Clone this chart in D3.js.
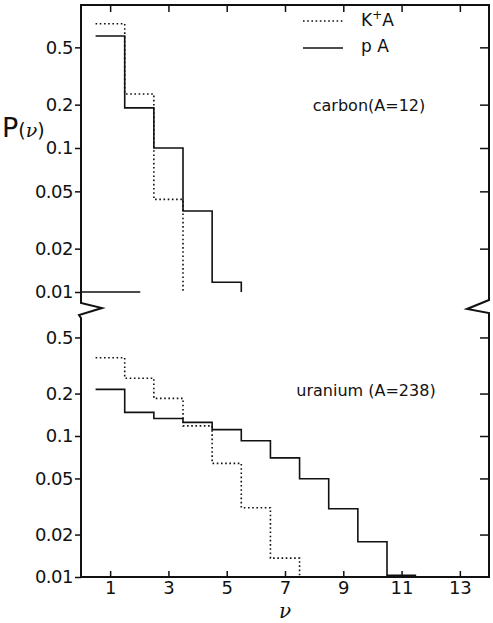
<!DOCTYPE html>
<html>
<head>
<meta charset="utf-8">
<script src="https://cdn.jsdelivr.net/npm/d3@7"></script>
<style>
  html, body { margin: 0; padding: 0; background: #fff; }
  svg { display: block; font-family: 'DejaVu Sans', sans-serif; }
</style>
</head>
<body>
<div class="chart"></div>
<script>
// ----------------------------------
// DATA
// ----------------------------------
const carbonNu = [1, 2, 3, 4, 5];
const carbonKA = [0.73, 0.237, 0.044];
const carbonPA = [0.60, 0.19, 0.10, 0.0365, 0.0117];
const carbonFloorNu = [0, 2]; // short solid segment sitting on the 0.01 line

const uraniumNu = [1, 2, 3, 4, 5, 6, 7, 8, 9, 10, 11];
const uraniumKA = [0.359, 0.257, 0.185, 0.118, 0.064, 0.031, 0.0136];
const uraniumPA = [0.214, 0.147, 0.133, 0.125, 0.111, 0.0926, 0.070, 0.0498, 0.0305, 0.0178, 0.0103];

const yTickValues = [0.5, 0.2, 0.1, 0.05, 0.02, 0.01];
const yTickLabels = ['0.5', '0.2', '0.1', '0.05', '0.02', '0.01'];
const xTickValues = [1, 3, 5, 7, 9, 11, 13];

// ----------------------------------
// GET TO KNOW THE CONTAINER
// ----------------------------------
const width = 493, height = 623;
const frameL = 81, frameR = 489, frameT = 5, frameB = 577;

const svg = d3.select('.chart').append('svg')
    .attr('width', width)
    .attr('height', height);

// ----------------------------------
// SCALES
// ----------------------------------
const x = d3.scaleLinear().domain([0, 14]).range([frameL, frameR]);
const yTop = d3.scaleLog().domain([0.01, 1]).range([292, 4]);
const yBot = d3.scaleLog().domain([0.01, 1]).range([frameB, 295]);

// ----------------------------------
// FRAME with the axis breaks
// ----------------------------------
const frame = d3.path();
frame.moveTo(frameL, frameB);
frame.lineTo(frameL, 318);
frame.lineTo(frameL - 2, 315);
frame.lineTo(frameL + 21, 308);
frame.lineTo(frameL, 303);
frame.lineTo(frameL, frameT);
frame.lineTo(frameR, frameT);
frame.lineTo(frameR, 300);
frame.lineTo(frameR - 22, 309);
frame.lineTo(frameR, 313);
frame.lineTo(frameR, frameB);
frame.closePath();

svg.append('path')
    .attr('d', frame.toString())
    .attr('fill', 'none')
    .attr('stroke', '#111')
    .attr('stroke-width', 2)
    .attr('stroke-linejoin', 'miter');

// ----------------------------------
// AXES
// ----------------------------------
function styleAxis(g) {
    g.select('.domain').remove();
    g.selectAll('.tick line').attr('stroke', '#111').attr('stroke-width', 1.5);
    g.selectAll('.tick text')
        .attr('fill', '#111')
        .style('font-family', "'DejaVu Sans', sans-serif")
        .style('font-size', '18px');
}

[yTop, yBot].forEach(y => {
    // left: outward ticks with labels
    svg.append('g')
        .attr('transform', `translate(${frameL},0)`)
        .call(d3.axisLeft(y).tickValues(yTickValues)
            .tickFormat((d, i) => yTickLabels[i])
            .tickSize(6).tickPadding(2))
        .call(styleAxis)
        .selectAll('.tick text').style('letter-spacing', '-0.5px');
    // right: inward ticks, no labels
    svg.append('g')
        .attr('transform', `translate(${frameR},0)`)
        .call(d3.axisLeft(y).tickValues(yTickValues.slice(0, 5)).tickFormat('').tickSize(9))
        .call(styleAxis);
});

// top: inward ticks
svg.append('g')
    .attr('transform', `translate(0,${frameT})`)
    .call(d3.axisBottom(x).tickValues(xTickValues).tickFormat('').tickSize(7))
    .call(styleAxis);

// bottom: inward ticks with labels underneath
svg.append('g')
    .attr('transform', `translate(0,${frameB})`)
    .call(d3.axisBottom(x).tickValues(xTickValues).tickSize(-6).tickPadding(4))
    .call(styleAxis);

// ----------------------------------
// HISTOGRAM STEPS
// ----------------------------------
function steps(nu, vals, y, dropToFloor) {
    const pts = [];
    vals.forEach((v, i) => {
        pts.push([x(nu[i] - 0.5), y(v)]);
        pts.push([x(nu[i] + 0.5), y(v)]);
    });
    if (dropToFloor) pts.push([x(nu[vals.length - 1] + 0.5), y(0.01)]);
    return d3.line()(pts);
}

function drawSeries(d, dotted) {
    svg.append('path')
        .attr('d', d)
        .attr('fill', 'none')
        .attr('stroke', '#111')
        .attr('stroke-width', 1.6)
        .attr('stroke-dasharray', dotted ? '1.6,2.6' : null);
}

drawSeries(steps(carbonNu, carbonKA, yTop, true), true);
drawSeries(steps(carbonNu, carbonPA, yTop, true), false);
drawSeries(d3.line()(carbonFloorNu.map(n => [x(n) + 1, yTop(0.01)])), false);

drawSeries(steps(uraniumNu, uraniumKA, yBot, true), true);
drawSeries(steps(uraniumNu, uraniumPA, yBot, false), false);

// ----------------------------------
// LABELS
// ----------------------------------
const labels = svg.append('g')
    .attr('fill', '#111')
    .style('font-family', "'DejaVu Sans', sans-serif");

const pLabel = labels.append('text').attr('x', 2).attr('y', 137);
pLabel.append('tspan').text('P').style('font-size', '27px');
pLabel.append('tspan').text('(').style('font-size', '19px');
pLabel.append('tspan').text('ν').style('font-size', '19px')
    .style('font-family', "'DejaVu Serif', serif").style('font-style', 'italic');
pLabel.append('tspan').text(')').style('font-size', '19px');

labels.append('text')
    .attr('x', x(7)).attr('y', 618)
    .attr('text-anchor', 'middle')
    .style('font-family', "'DejaVu Serif', serif")
    .style('font-style', 'italic')
    .style('font-size', '20px')
    .text('ν');

labels.append('text')
    .attr('x', 369).attr('y', 111)
    .attr('text-anchor', 'middle')
    .style('font-size', '16px')
    .text('carbon(A=12)');

labels.append('text')
    .attr('x', 366).attr('y', 396)
    .attr('text-anchor', 'middle')
    .style('font-size', '16px')
    .text('uranium (A=238)');

// legend
const legendRows = [
    { y: 21, dotted: true, text: 'K', sup: '+', rest: 'A', base: 26 },
    { y: 48, dotted: false, text: 'p\u00a0A', sup: '', rest: '', base: 52 }
];
legendRows.forEach(r => {
    svg.append('line')
        .attr('x1', 303).attr('x2', 343)
        .attr('y1', r.y).attr('y2', r.y)
        .attr('stroke', '#111')
        .attr('stroke-width', 1.6)
        .attr('stroke-dasharray', r.dotted ? '1.6,2.6' : null);
    const t = labels.append('text')
        .attr('x', 361).attr('y', r.base)
        .style('font-size', '17px');
    t.append('tspan').text(r.text);
    if (r.sup) {
        t.append('tspan').text(r.sup).attr('dy', -7).style('font-size', '12px');
        t.append('tspan').text(r.rest).attr('dy', 7);
    }
});
</script>
</body>
</html>
